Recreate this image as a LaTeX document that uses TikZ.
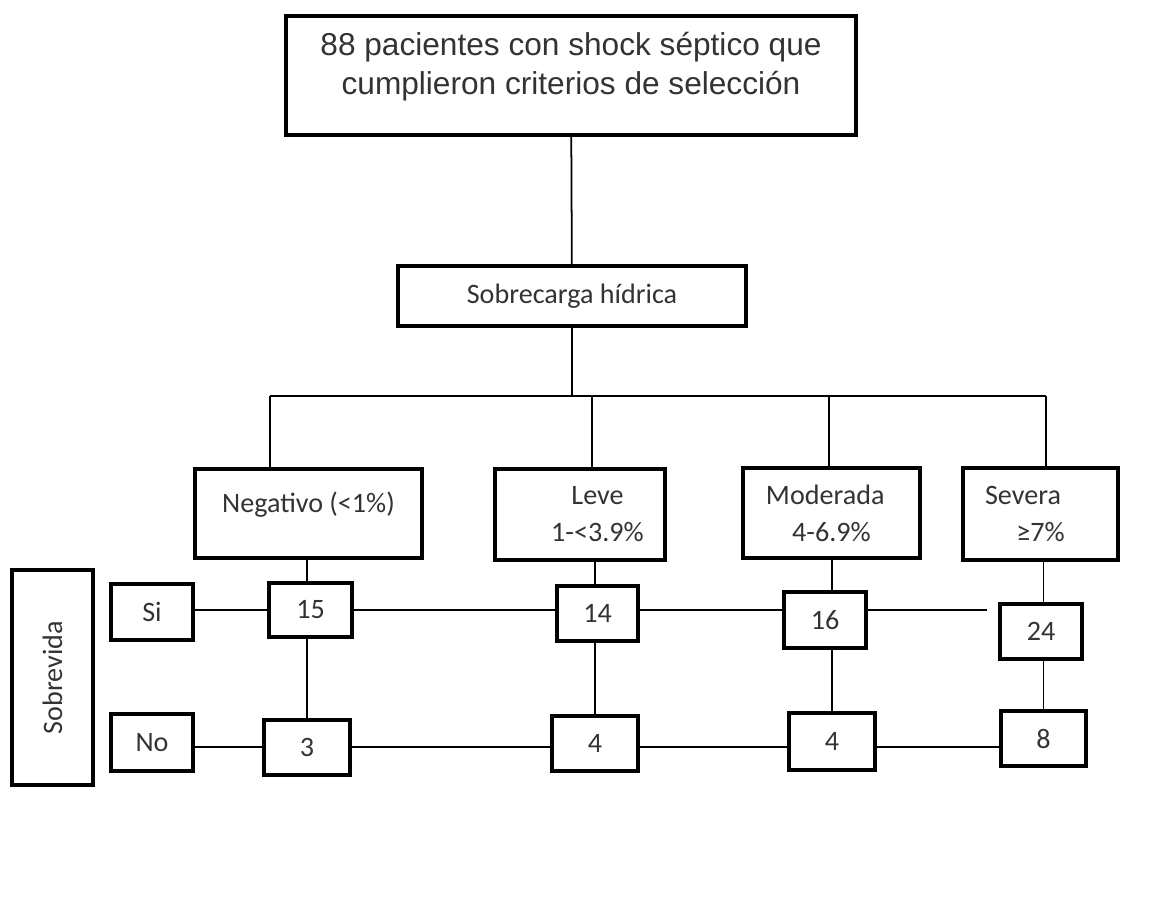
\documentclass[tikz,border=0pt]{standalone}
\usepackage{fontspec}
\setmainfont{Carlito}
\newfontfamily\arialfont{Liberation Sans}
\usepackage{tikz}

\begin{document}
\begin{tikzpicture}[x=0.02cm,y=-0.02cm,
  box/.style={draw=black,line width=1.9pt,inner sep=0pt,align=center,text=black!80,font=\fontsize{16}{21}\selectfont},
  link/.style={black,line width=1pt}]
 \useasboundingbox (0,0) rectangle (1172,905);

 %Coordinates
 \coordinate (dneg) at (270,396);
 \coordinate (dleve) at (592,396);
 \coordinate (dmod) at (829,396);
 \coordinate (dsev) at (1046,396);
 \coordinate (sirow) at (0,610);
 \coordinate (norow) at (0,747);
 \coordinate (siend) at (987,610);

 %Name
 \node (top) [box,minimum width=11.4cm,minimum height=2.38cm,font=\arialfont\fontsize{18}{22}\selectfont,text depth=13.5pt] at (571,75.5) {88 pacientes con shock séptico que\\cumplieron criterios de selección};
 \node (sobre) [box,minimum width=6.96cm,minimum height=1.2cm] at (572,296) {Sobrecarga hídrica};

 \node (neg) [box,minimum width=4.54cm,minimum height=1.78cm,text height=12pt,text depth=13pt] at (308.5,513.5) {Negativo (<1\%)};
 \node (leve) [box,minimum width=3.4cm,minimum height=1.82cm] at (580,514.5) {\hspace*{0.7cm}Leve\\\hspace*{0.7cm}1-<3.9\%};
 \node (mod) [box,minimum width=3.54cm,minimum height=1.8cm] at (831.5,513) {Moderada\hspace*{0.25cm}\\4-6.9\%};
 \node (sev) [box,minimum width=3.1cm,minimum height=1.84cm] at (1040.5,514) {Severa\hspace*{0.7cm}\\≥7\%};

 \node (sobrev) [box,rotate=90,minimum width=4.3cm,minimum height=1.62cm] at (52.5,677.5) {Sobrevida};
 \node (si) [box,minimum width=1.64cm,minimum height=1.12cm] at (152,612) {Si};
 \node (no) [box,minimum width=1.64cm,minimum height=1.14cm] at (152,742.5) {No};

 \node (n15) [box,minimum width=1.66cm,minimum height=1.08cm] at (310.5,610) {15};
 \node (n3) [box,minimum width=1.72cm,minimum height=1.1cm] at (307,747.5) {3};
 \node (n14) [box,minimum width=1.62cm,minimum height=1.1cm] at (597.5,613.5) {14};
 \node (n4a) [box,minimum width=1.72cm,minimum height=1.1cm] at (595,743.5) {4};
 \node (n16) [box,minimum width=1.64cm,minimum height=1.12cm] at (825,620) {16};
 \node (n4b) [box,minimum width=1.72cm,minimum height=1.14cm] at (832,741.5) {4};
 \node (n24) [box,minimum width=1.64cm,minimum height=1.1cm] at (1041,631.5) {24};
 \node (n8) [box,minimum width=1.7cm,minimum height=1.1cm] at (1043.5,738.5) {8};

 %Tree
 \draw[link] (top) -- (sobre);
 \draw[link] (sobre.south) -- (sobre.south |- dneg);
 \draw[link] (dneg) -- (dsev);
 \foreach \d/\b in {dneg/neg,dleve/leve,dmod/mod,dsev/sev}
 \draw[link] (\d) -- (\d |- \b.north);

 \foreach \c/\u/\l in {neg/n15/n3,leve/n14/n4a,mod/n16/n4b,sev/n24/n8}
 \draw[link] (\c.south -| \l) -- (\u.north -| \l) (\u.south -| \l) -- (\l.north);

 %Rows
 \foreach \a/\b in {si/n15,n15/n14,n14/n16}
 \draw[link] (\a.east |- sirow) -- (\b.west |- sirow);
 \draw[link] (n16.east |- sirow) -- (siend);

 \foreach \a/\b in {no/n3,n3/n4a,n4a/n4b,n4b/n8}
 \draw[link] (\a.east |- norow) -- (\b.west |- norow);

\end{tikzpicture}
\end{document}
